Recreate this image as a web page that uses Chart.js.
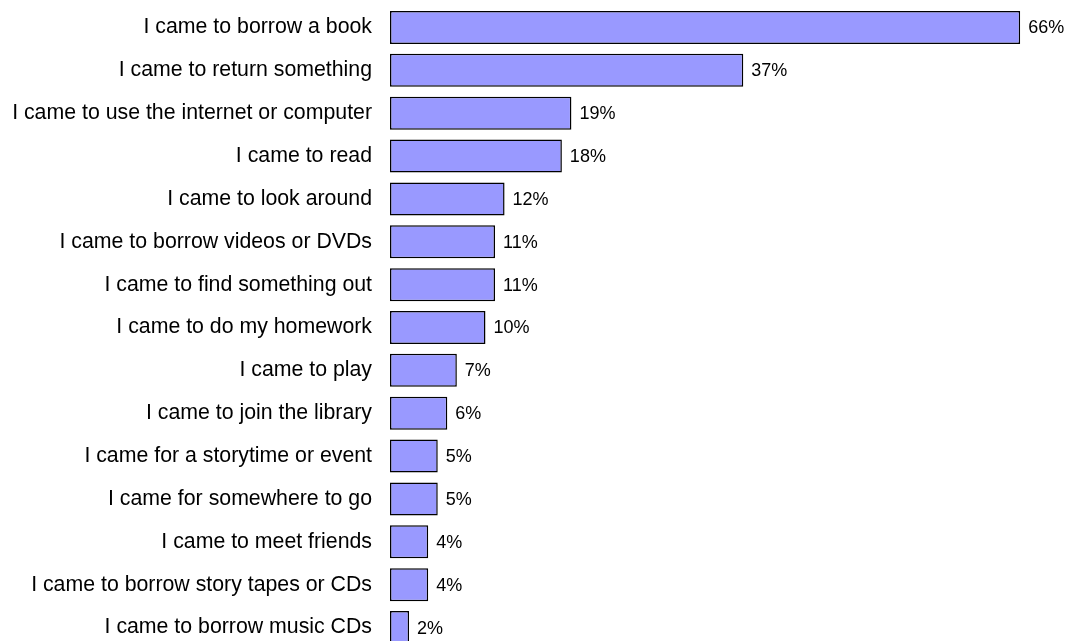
<!DOCTYPE html>
<html>
<head>
<meta charset="utf-8">
<script src="https://cdn.jsdelivr.net/npm/chart.js@4.4.1/dist/chart.umd.min.js"></script>
<style>
  html, body { margin: 0; padding: 0; background: #fff; overflow: hidden; }
  canvas { display: block; }
</style>
</head>
<body>
<canvas id="chart" width="1066" height="655"></canvas>
<script>
// dados
const categorias = [
  "I came to borrow a book",
  "I came to return something",
  "I came to use the internet or computer",
  "I came to read",
  "I came to look around",
  "I came to borrow videos or DVDs",
  "I came to find something out",
  "I came to do my homework",
  "I came to play",
  "I came to join the library",
  "I came for a storytime or event",
  "I came for somewhere to go",
  "I came to meet friends",
  "I came to borrow story tapes or CDs",
  "I came to borrow music CDs"
];
const valores = [66, 37, 19, 18, 12, 11, 11, 10, 7, 6, 5, 5, 4, 4, 2];

const fonte = "'Liberation Sans', Arial, sans-serif";

// escreve o valor ao lado de cada barra
const rotulosValor = {
  id: "rotulosValor",
  afterDatasetsDraw(chart) {
    const ctx = chart.ctx;
    const meta = chart.getDatasetMeta(0);
    ctx.save();
    ctx.font = "18px " + fonte;
    ctx.fillStyle = "#000";
    ctx.textAlign = "left";
    ctx.textBaseline = "middle";
    meta.data.forEach((bar, i) => {
      ctx.fillText(valores[i] + "%", bar.x + 8, bar.y + 1);
    });
    ctx.restore();
  }
};

new Chart(document.getElementById("chart").getContext("2d"), {
  type: "bar",
  data: {
    labels: categorias,
    datasets: [
      {
        data: valores,
        backgroundColor: "#9999FF",
        borderColor: "#000000",
        borderWidth: 1.5,
        borderSkipped: false,
        barPercentage: 0.77,
        categoryPercentage: 1
      }
    ]
  },
  options: {
    indexAxis: "y",
    responsive: false,
    animation: false,
    layout: { padding: { top: 6, bottom: 6, right: 0, left: 0 } },
    scales: {
      x: {
        display: false,
        min: 0,
        max: 70.8
      },
      y: {
        grid: { display: false, drawTicks: false },
        border: { display: false },
        // largura fixa do eixo e sem folga extra em cima/embaixo
        afterFit(scale) {
          scale.width = 390;
          scale.paddingTop = 0;
          scale.paddingBottom = 0;
        },
        ticks: {
          color: "#000",
          padding: 18,
          font: { family: fonte, size: 21.3 }
        }
      }
    },
    plugins: {
      legend: { display: false },
      tooltip: { enabled: false }
    }
  },
  plugins: [rotulosValor]
});
</script>
</body>
</html>
